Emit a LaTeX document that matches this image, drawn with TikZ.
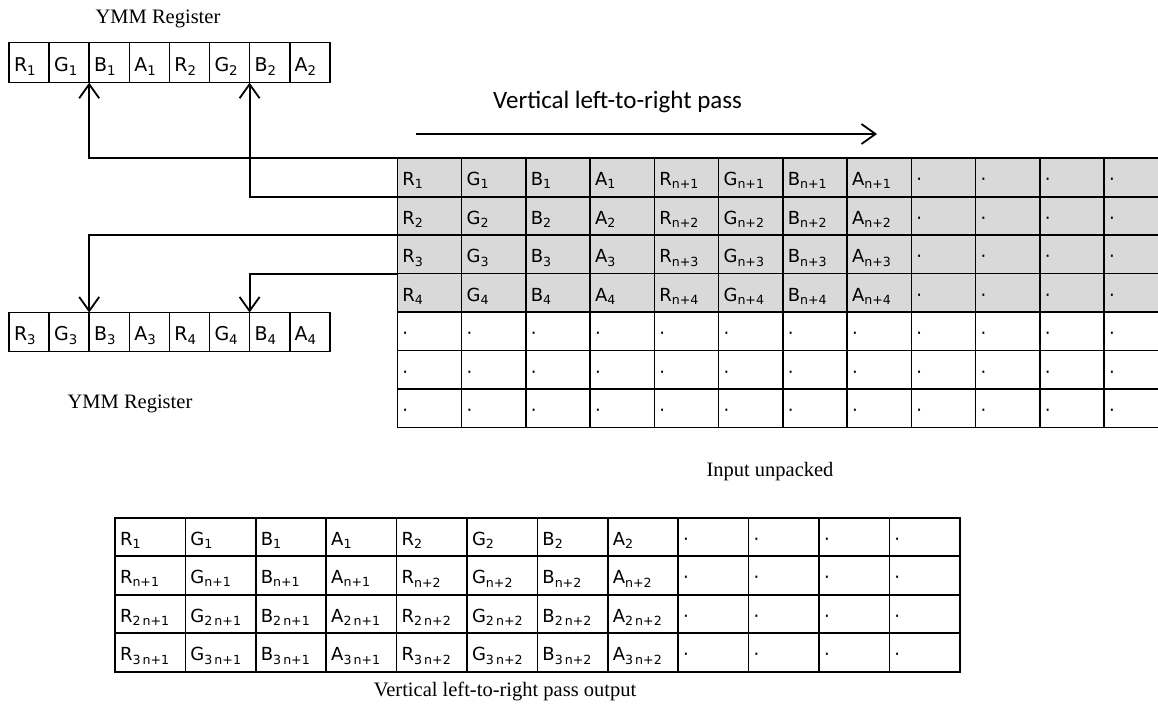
\documentclass[tikz,border=0pt]{standalone}
\usepackage{fontspec}
\setmainfont{Liberation Serif}
\newfontfamily\cellfont{DejaVu Sans}
\newfontfamily\passfont{Carlito}
\usetikzlibrary{arrows.meta}
\definecolor{shade}{HTML}{D9D9D9}
\newcommand{\more}{·}
\tikzset{%
  cell/.style     = {shape=rectangle, draw, line width=1.6pt,%
                     inner xsep=5pt, inner ysep=0pt, outer sep=0pt,%
                     anchor=north west, align=left, text depth=11pt,%
                     font=\cellfont\fontsize{18}{21}\selectfont},%
  regcell/.style  = {cell, text width=30.1pt, text height=#1,%
                     font=\cellfont\fontsize{19}{22}\selectfont},%
  incell/.style   = {cell, text width=54.25pt, text height=27.45pt},%
  outcell/.style  = {cell, text width=60.4pt, text height=27.5pt},%
  caption/.style  = {inner sep=0pt, anchor=base,%
                     font=\fontsize{20.5}{24}\selectfont},%
  flow/.style     = {draw, line width=1.8pt,%
                     -{Straight Barb[length=14pt,width=20pt]}}%
}

\begin{document}
\begin{tikzpicture}[x=1pt, y=-1pt]
  \clip (0,0) rectangle (1158,708);
  \def\gx{397.3} \def\gy{158.3} \def\gw{64.25} \def\gh{38.45}
  \def\ox{115}   \def\oy{517.7} \def\ow{70.4}  \def\oh{38.5}

  % the two registers
  \foreach \ch [count=\c] in {R,G,B,A}{
    \pgfmathtruncatemacro\cc{\c+4}
    \node[regcell=29pt] (ra-\c)  at ({9+(\c-1)*40.1},42.7)  {\ch\textsubscript{1}};
    \node[regcell=29pt] (ra-\cc) at ({9+(\cc-1)*40.1},42.7) {\ch\textsubscript{2}};
    \node[regcell=28pt] (rb-\c)  at ({9+(\c-1)*40.1},312.5)  {\ch\textsubscript{3}};
    \node[regcell=28pt] (rb-\cc) at ({9+(\cc-1)*40.1},312.5) {\ch\textsubscript{4}};
  }
  \node[caption] (ymm-top) at (158,23.5) {YMM Register};
  \node[caption] (ymm-bot) at (130,408) {YMM Register};

  % unpacked input, first four rows shaded
  \foreach \r in {1,...,4}
    \foreach \ch [count=\c] in {R,G,B,A}{
      \pgfmathtruncatemacro\cc{\c+4}
      \node[incell, fill=shade] (in-\r-\c)  at ({\gx+(\c-1)*\gw},{\gy+(\r-1)*\gh})  {\ch\textsubscript{\r}};
      \node[incell, fill=shade] (in-\r-\cc) at ({\gx+(\cc-1)*\gw},{\gy+(\r-1)*\gh}) {\ch\textsubscript{n+\r}};
    }
  \foreach \r in {1,...,4}
    \foreach \c in {9,...,12}
      \node[incell, fill=shade] (in-\r-\c) at ({\gx+(\c-1)*\gw},{\gy+(\r-1)*\gh}) {\more};
  \foreach \r in {5,6,7}
    \foreach \c in {1,...,12}
      \node[incell] (in-\r-\c) at ({\gx+(\c-1)*\gw},{\gy+(\r-1)*\gh}) {\more};
  \node[caption] (in-cap) at (770,476.7) {Input unpacked};

  % loads and stores
  \draw[flow] (in-1-1.north west) -| (ra-2.south east);
  \draw[flow] (in-2-1.north west) -| (ra-6.south east);
  \draw[flow] (in-3-1.north west) -| (rb-2.north east);
  \draw[flow] (in-4-1.north west) -| (rb-6.north east);

  \node[inner sep=0pt, anchor=base west, font=\passfont\fontsize{25}{30}\selectfont]
    (pass-lbl) at (493,108.3) {Vertical left-to-right pass};
  \coordinate (pass-from) at (416,134);
  \coordinate (pass-to) at (877,134);
  \draw[flow] (pass-from) -- (pass-to);

  % output of the pass
  \foreach \p [count=\r] in {{},{n+},{2\,n+},{3\,n+}}
    \foreach \ch [count=\c] in {R,G,B,A}{
      \pgfmathtruncatemacro\cc{\c+4}
      \node[outcell] (out-\r-\c)  at ({\ox+(\c-1)*\ow},{\oy+(\r-1)*\oh})  {\ch\textsubscript{\p1}};
      \node[outcell] (out-\r-\cc) at ({\ox+(\cc-1)*\ow},{\oy+(\r-1)*\oh}) {\ch\textsubscript{\p2}};
    }
  \foreach \r in {1,...,4}
    \foreach \c in {9,...,12}
      \node[outcell] (out-\r-\c) at ({\ox+(\c-1)*\ow},{\oy+(\r-1)*\oh}) {\more};
  \node[caption] (out-cap) at (505,696.7) {Vertical left-to-right pass output};
\end{tikzpicture}
\end{document}
